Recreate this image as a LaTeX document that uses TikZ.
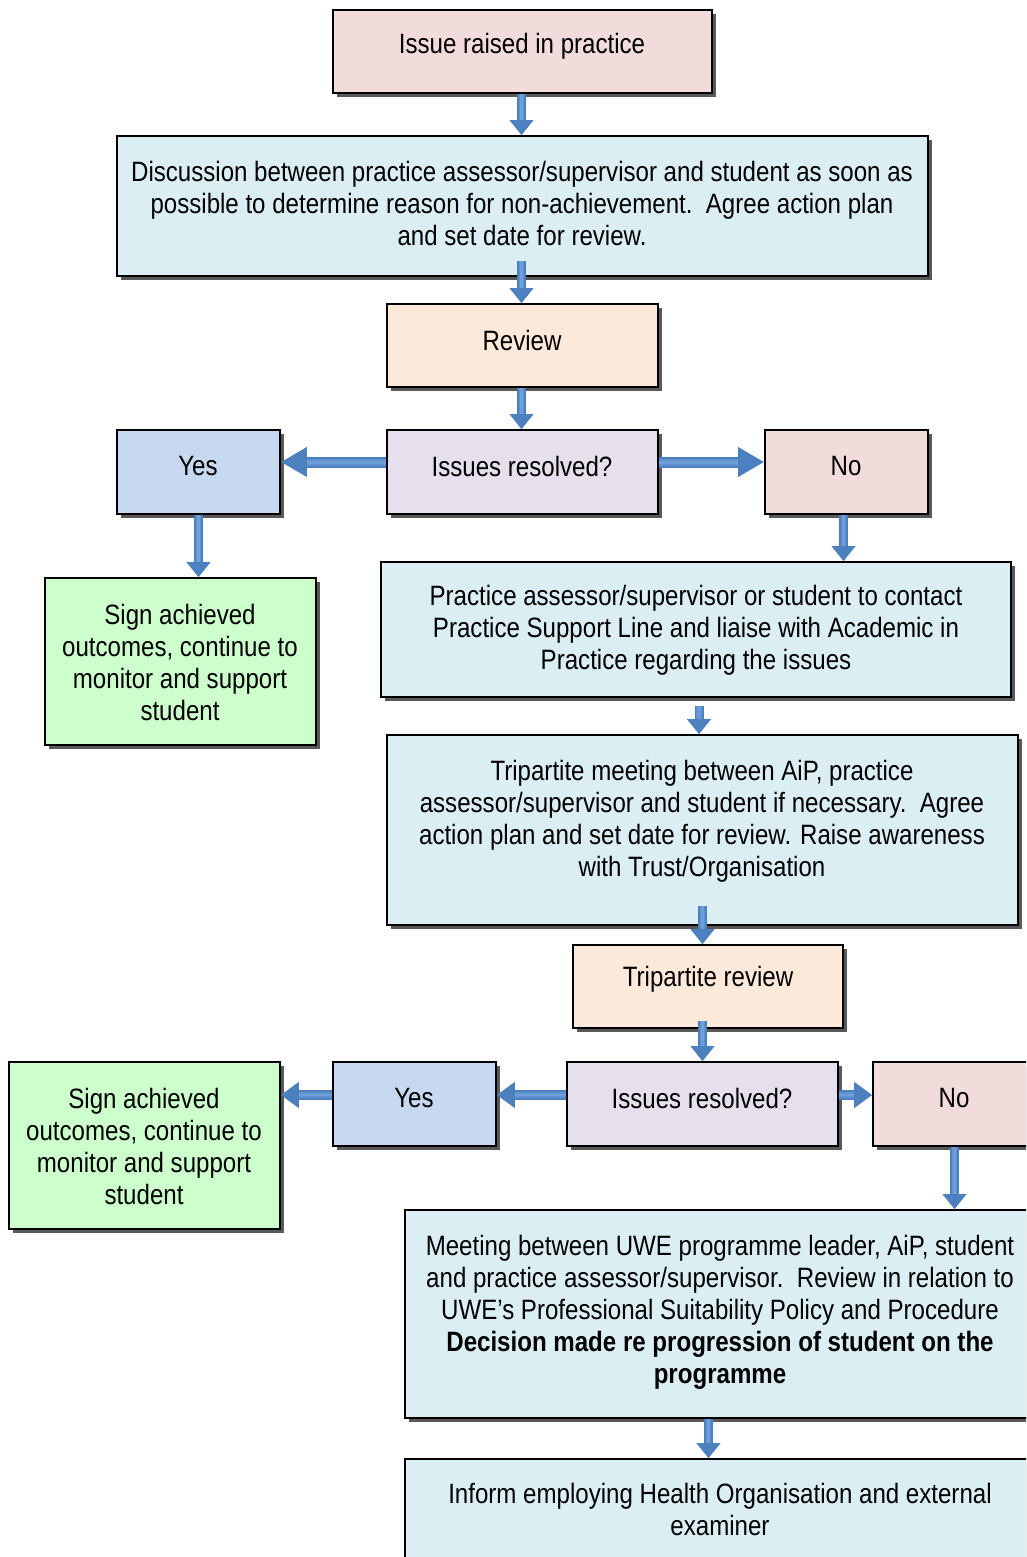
\documentclass[tikz,border=0pt]{standalone}
\usepackage{fontspec}
\setmainfont{Liberation Sans}[FakeStretch=0.86]
\usetikzlibrary{arrows.meta,shadows}
\definecolor{pinkF}{HTML}{F2DCDB}
\definecolor{blueF}{HTML}{DBEEF4}
\definecolor{peachF}{HTML}{FDE9D9}
\definecolor{lavF}{HTML}{E5E0EC}
\definecolor{yesF}{HTML}{C6D9F1}
\definecolor{greenF}{HTML}{CCFFCC}
\definecolor{arrowC}{HTML}{4C80BE}
\definecolor{arrowM}{HTML}{5F92CF}
\definecolor{arrowL}{HTML}{6F9FD8}
\tikzset{
  box/.style={draw=black, line width=1.6pt, inner sep=0pt,
    drop shadow={shadow xshift=4pt, shadow yshift=-4pt, fill=black!65, opacity=1}},
  txt/.style={align=center, inner sep=0pt, font=\fontsize{28}{32}\selectfont},
  arr/.style={draw=arrowC, line width=9pt, -{Triangle[width=23pt,length=15pt]},
    postaction={draw=arrowM, line width=5.5pt, -, shorten >=15pt},
    postaction={draw=arrowL, line width=2.5pt, -, shorten >=15pt}},
  arrbig/.style={draw=arrowC, line width=11pt, -{Triangle[width=28pt,length=26pt]},
    postaction={draw=arrowM, line width=7pt, -, shorten >=26pt},
    postaction={draw=arrowL, line width=3pt, -, shorten >=26pt}},
  arrmid/.style={draw=arrowC, line width=10pt, -{Triangle[width=25pt,length=18pt]},
    postaction={draw=arrowM, line width=6pt, -, shorten >=18pt},
    postaction={draw=arrowL, line width=2.5pt, -, shorten >=18pt}}
}
\begin{document}
\begin{tikzpicture}[x=1pt,y=-1pt]
\useasboundingbox (0,0) rectangle (1026,1557);
\clip (0,0) rectangle (1026,1557);
% boxes
\node[box, fill=pinkF,  minimum width=379pt, minimum height=83pt]  (b1)  at (522.5,51.5) {};
\node[box, fill=blueF,  minimum width=811pt, minimum height=140pt] (b2)  at (522.5,206) {};
\node[box, fill=peachF, minimum width=271pt, minimum height=83pt]  (b3)  at (522.5,345.5) {};
\node[box, fill=lavF,   minimum width=271pt, minimum height=84pt]  (b4)  at (522.5,472) {};
\node[box, fill=yesF,   minimum width=163pt, minimum height=84pt]  (b5)  at (198.5,472) {};
\node[box, fill=pinkF,  minimum width=163pt, minimum height=84pt]  (b6)  at (846.5,472) {};
\node[box, fill=greenF, minimum width=271pt, minimum height=167pt] (b7)  at (180.5,661.5) {};
\node[box, fill=blueF,  minimum width=630pt, minimum height=135pt] (b8)  at (696,629.5) {};
\node[box, fill=blueF,  minimum width=631pt, minimum height=190pt] (b9)  at (702.5,830) {};
\node[box, fill=peachF, minimum width=270pt, minimum height=83pt]  (b10) at (708,986.5) {};
\node[box, fill=lavF,   minimum width=271pt, minimum height=84pt]  (b11) at (702.5,1104) {};
\node[box, fill=yesF,   minimum width=163pt, minimum height=84pt]  (b12) at (414.5,1104) {};
\node[box, fill=pinkF,  minimum width=163pt, minimum height=84pt]  (b13) at (954.5,1104) {};
\node[box, fill=greenF, minimum width=271pt, minimum height=167pt] (b14) at (144.5,1145.5) {};
\node[box, fill=blueF,  minimum width=631pt, minimum height=208pt] (b15) at (720.5,1314) {};
\node[box, fill=blueF,  minimum width=631pt, minimum height=121pt] (b16) at (720.5,1519.5) {};
% texts
\node[txt] (t1)  at (522,46) {Issue raised in practice};
\node[txt] (t2)  at (522,203) {Discussion between practice assessor/supervisor and student as soon as\\possible to determine reason for non-achievement.\ \ Agree action plan\\and set date for review.};
\node[txt] (t3)  at (522,340) {Review};
\node[txt] (t4)  at (522,466) {Issues resolved?};
\node[txt] (t5)  at (198,466) {Yes};
\node[txt] (t6)  at (846,466) {No};
\node[txt] (t7)  at (180,662) {Sign achieved\\outcomes, continue to\\monitor and support\\student};
\node[txt] (t8)  at (696,630) {Practice assessor/supervisor or student to contact\\Practice Support Line and liaise with Academic in\\Practice regarding the issues};
\node[txt] (t9)  at (702,821) {Tripartite meeting between AiP, practice\\assessor/supervisor and student if necessary.\ \ Agree\\action plan and set date for review. Raise awareness\\with Trust/Organisation};
\node[txt] (t10) at (708,979) {Tripartite review};
\node[txt] (t11) at (702,1098) {Issues resolved?};
\node[txt] (t12) at (414,1098) {Yes};
\node[txt] (t13) at (954,1098) {No};
\node[txt] (t14) at (144,1146) {Sign achieved\\outcomes, continue to\\monitor and support\\student};
\node[txt] (t15) at (720,1312) {Meeting between UWE programme leader, AiP, student\\and practice assessor/supervisor.\ \ Review in relation to\\UWE's Professional Suitability Policy and Procedure\\\textbf{Decision made re progression of student on the}\\\textbf{programme}};
\node[txt] (t16) at (720,1509) {Inform employing Health Organisation and external\\examiner};
% arrows
\draw[arr] ([xshift=-1pt]b1.south) -- ([xshift=-1pt]b2.north);
\draw[arr] ([xshift=-1pt,yshift=16pt]b2.south) -- ([xshift=-1pt]b3.north);
\draw[arr] ([xshift=-1pt]b3.south) -- ([xshift=-1pt]b4.north);
\draw[arrbig] ([yshift=10pt]b4.west) -- ([yshift=10pt]b5.east);
\draw[arrbig] ([yshift=10pt]b4.east) -- ([yshift=10pt]b6.west);
\draw[arr] (b5.south) -- (b5.south |- b7.north);
\draw[arr] ([xshift=-3pt]b6.south) -- ([xshift=-3pt]b6.south |- b8.north);
\draw[arr] ([xshift=3pt,yshift=-8pt]b8.south) -- ([xshift=3pt]b8.south |- b9.north);
\draw[arr] ([yshift=20pt]b9.south) -- (b9.south |- b10.north);
\draw[arr] ([yshift=8pt]b11.north |- b10.south) -- (b11.north);
\draw[arrmid] ([yshift=9pt]b11.west) -- ([yshift=9pt]b12.east);
\draw[arrmid] ([yshift=9pt]b12.west) -- ([yshift=9pt]b12.west -| b14.east);
\draw[arrmid] ([yshift=9pt]b11.east) -- ([yshift=9pt]b13.west);
\draw[arr] (b13.south) -- (b13.south |- b15.north);
\draw[arr] ([xshift=-12pt]b15.south) -- ([xshift=-12pt]b16.north);
\end{tikzpicture}
\end{document}
